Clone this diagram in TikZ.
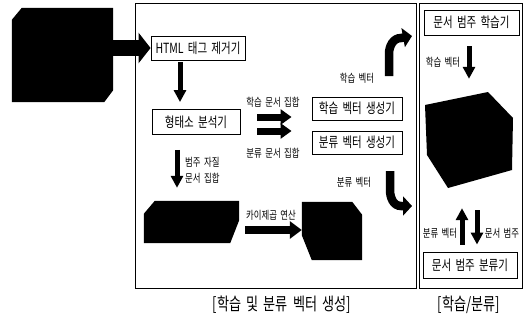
\documentclass[tikz,border=0pt]{standalone}
\usepackage{fontspec}
\setmainfont{Noto Sans CJK KR}[FakeStretch=0.75, WordSpace=1.8]
\usetikzlibrary{arrows.meta,calc}
\begin{document}
\begin{tikzpicture}[x=1pt,y=-1pt,
  box/.style={draw, line width=0.9pt, fill=white, inner sep=0pt, font=\fontsize{14}{16}\selectfont},
  lbl/.style={inner sep=0pt, font=\fontsize{11.2}{13}\selectfont},
  captext/.style={inner sep=0pt, font=\fontsize{17.5}{20}\selectfont},
  inv/.style={inner sep=0pt, minimum width=#1},
  panel/.style={draw, line width=0.8pt},
  bigarr/.style={line width=16pt, -{Triangle[length=12pt,width=30pt]}},
  midarr/.style={line width=8pt, -{Triangle[length=12pt,width=17pt]}},
  dblarr/.style={line width=7pt, -{Triangle[length=11pt,width=15pt]}},
  thinarr/.style={line width=5pt, -{Triangle[length=12pt,width=12pt]}},
  curvarr/.style={line width=8.5pt, -{Triangle[length=9pt,width=19pt]}},
]
\useasboundingbox (0,0) rectangle (528,324);

% panels
\draw[panel] (135,3) rectangle (416,288);
\draw[panel] (419,3) rectangle (522,288);

% source black shape
\node[inv=101pt, minimum height=94pt] (src) at (62.5,55) {};
\fill ([xshift=10pt]src.north west) -- (src.north east) -- ([yshift=12pt]src.south east)
  -- ([xshift=-9pt]src.south east) -- (src.south west) -- ([yshift=-12pt]src.north west) -- cycle;

% boxes in middle panel
\node[box, minimum width=94pt, minimum height=24pt] (html) at (198,48) {HTML 태그 제거기};
\node[box, minimum width=88pt, minimum height=25pt] (morph) at (196,122) {형태소 분석기};
\node[box, minimum width=90pt, minimum height=23pt] (lv) at (357,108.5) {학습 벡터 생성기};
\node[box, minimum width=90pt, minimum height=23pt] (cv) at (357,142.5) {분류 벡터 생성기};

% features black shape
\node[inv=95pt, minimum height=42pt] (feat) at (191.5,222) {};
\fill ([xshift=11pt]feat.north west) -- (feat.north east) -- ([yshift=23pt]feat.south east)
  -- ([xshift=-9pt]feat.south east) -- (feat.south west) -- ([yshift=-13pt]feat.north west) -- cycle;

% chi-square result black shape
\node[inv=60pt, minimum height=58pt] (chi) at (332,231) {};
\fill (chi.north west) -- ([xshift=-10pt]chi.north east) -- ([yshift=-13pt]chi.north east)
  -- (chi.south east) -- ([xshift=10pt]chi.south west) -- ([yshift=25pt]chi.south west) -- cycle;

% right panel
\node[box, minimum width=95pt, minimum height=25pt] (learn) at (471.5,22.5) {문서 범주 학습기};
\node[box, minimum width=94pt, minimum height=26pt] (clsf) at (470,265) {문서 범주 분류기};
\node[inv=88pt, minimum height=96pt] (hex) at (470,140) {};
\fill ($(hex.center)+(-45,-35)$) -- ($(hex.center)+(18,-48)$) -- ($(hex.center)+(43,-22)$)
  -- ($(hex.center)+(42,30)$) -- ($(hex.center)+(-22,48)$) -- ($(hex.center)+(-43,15)$) -- cycle;

% labels
\node[lbl] (l1) at (273,102) {학습 문서 집합};
\node[lbl] (l2) at (273,153) {분류 문서 집합};
\node[lbl] (l3) at (357,78) {학습 벡터};
\node[lbl] (l4) at (354,182) {분류 벡터};
\node[lbl, align=left, anchor=west, font=\fontsize{11.2}{16}\selectfont] (l5) at (185,170) {범주 자질\\문서 집합};
\node[lbl] (l6) at (271,215) {카이제곱 연산};
\node[lbl] (l7) at (443,62) {학습 벡터};
\node[lbl] (l8) at (440,233) {분류 벡터};
\node[lbl] (l9) at (502,233) {문서 범주};

% captions
\node[captext] (c1) at (282,305) {[학습 및 분류 벡터 생성]};
\node[captext] (c2) at (469,305) {[학습/분류]};

% connectors
\draw[bigarr] (src.east |- html.west) -- (html.west);
\draw[thinarr] ($(html.south)+(-18,2)$) -- ($(morph.north)+(-16,-7)$);
\draw[dblarr] ($(morph.east)+(17,-5)$) -- ($(lv.west)+(-20,8.5)$);
\draw[dblarr] ($(morph.east)+(17,9)$) -- ($(cv.west)+(-20,-11.5)$);
\draw[thinarr] ($(morph.south)+(-19,15)$) -- ($(feat.north)+(-14.5,-13)$);
\draw[midarr] ($(feat.east)+(6,8)$) -- ($(chi.west)+(0,-1)$);
\coordinate (u0) at (389,76);
\coordinate (u1) at (412,36);
\draw[curvarr] (u0) -- (389,54) to[out=90,in=180] (401,38) -- (u1);
\coordinate (d0) at (390,171);
\coordinate (d1) at (412,206);
\draw[curvarr] (d0) -- (390,190) to[out=-90,in=180] (401,206) -- (d1);
\draw[thinarr] ($(learn.south)+(-2.5,11)$) -- ($(hex.north)+(-1,-13)$);
\draw[thinarr] ($(clsf.north)+(-8,-7)$) -- ($(hex.south)+(-8,20)$);
\draw[thinarr] ($(hex.south)+(7,22)$) -- ($(clsf.north)+(7,-7)$);
\end{tikzpicture}
\end{document}
